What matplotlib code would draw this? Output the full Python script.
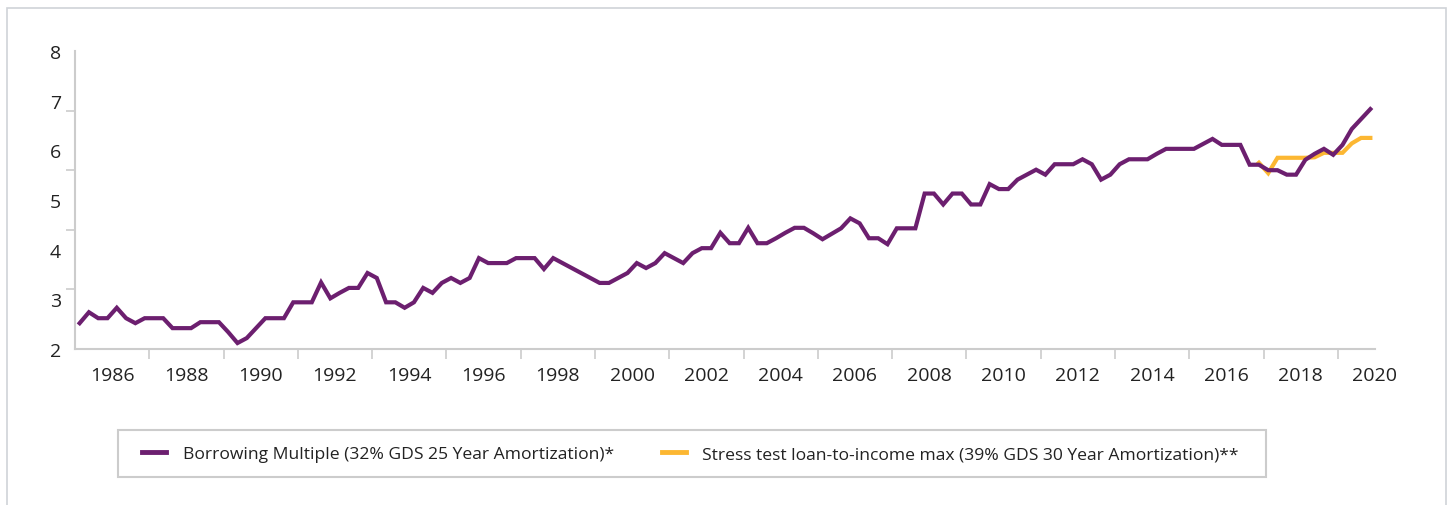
import numpy as np
import matplotlib
matplotlib.use("Agg")
import matplotlib.pyplot as plt
from matplotlib.patches import Rectangle
from matplotlib.lines import Line2D

plt.rcParams['font.family'] = ['Open Sans', 'DejaVu Sans']

# ---- data (quarterly observations, category index along x) ----
borrowing_multiple = [
    2.52, 2.74, 2.62, 2.62, 2.83, 2.62, 2.52, 2.62, 2.62, 2.62,
    2.42, 2.42, 2.42, 2.54, 2.54, 2.54, 2.34, 2.12, 2.22, 2.42,
    2.62, 2.62, 2.62, 2.94, 2.94, 2.94, 3.34, 3.02, 3.13, 3.23,
    3.23, 3.53, 3.43, 2.94, 2.94, 2.83, 2.94, 3.23, 3.13, 3.33,
    3.43, 3.33, 3.43, 3.83, 3.73, 3.73, 3.73, 3.83, 3.83, 3.83,
    3.61, 3.83, 3.73, 3.63, 3.53, 3.43, 3.33, 3.33, 3.43, 3.53,
    3.73, 3.63, 3.73, 3.93, 3.83, 3.73, 3.93, 4.03, 4.03, 4.34,
    4.13, 4.13, 4.44, 4.13, 4.13, 4.23, 4.34, 4.44, 4.44, 4.33,
    4.21, 4.32, 4.43, 4.63, 4.53, 4.23, 4.23, 4.11, 4.43, 4.43,
    4.43, 5.13, 5.13, 4.91, 5.13, 5.13, 4.91, 4.91, 5.32, 5.22,
    5.22, 5.41, 5.51, 5.61, 5.51, 5.72, 5.72, 5.72, 5.82, 5.72,
    5.41, 5.51, 5.72, 5.82, 5.82, 5.82, 5.93, 6.03, 6.03, 6.03,
    6.03, 6.13, 6.23, 6.11, 6.11, 6.11, 5.71, 5.71, 5.60, 5.60,
    5.51, 5.51, 5.81, 5.93, 6.03, 5.91, 6.11, 6.43, 6.63, 6.83,
]
stress_test_start = 127
stress_test_max = [5.75, 5.54, 5.85, 5.85, 5.85, 5.85, 5.86,
                   5.95, 5.95, 5.95, 6.14, 6.25, 6.25]

year_labels = [str(y) for y in range(1986, 2021, 2)]
ytick_labels = [2, 3, 4, 5, 6, 7, 8]
quarters_per_label = 8

label_bm = "Borrowing Multiple (32% GDS 25 Year Amortization)*"
label_st = "Stress test loan-to-income max (39% GDS 30 Year Amortization)**"

PURPLE = "#6c1f6f"
GOLD = "#fcb732"
GRAY = "#cccccc"
TEXT = "#222222"

n = len(borrowing_multiple)
x_bm = np.arange(n)
x_st = np.arange(stress_test_start, stress_test_start + len(stress_test_max))

fig = plt.figure(figsize=(14.5, 5.06), dpi=100)
W, H = 1450, 506
ax = fig.add_axes([75 / W, 1 - 350 / H, 1300 / W, 298 / H])

ax.plot(x_bm, borrowing_multiple, color=PURPLE, lw=3, solid_joinstyle='miter', zorder=3)
ax.plot(x_st, stress_test_max, color=GOLD, lw=3, solid_joinstyle='miter', zorder=2)

ax.set_xlim(-0.5, n - 0.5)
ax.set_ylim(min(ytick_labels), max(ytick_labels))

# y axis: labels at integers, tick marks evenly spaced
ax.set_yticks(ytick_labels)
ax.set_yticklabels([str(v) for v in ytick_labels])
ax.set_yticks(np.linspace(min(ytick_labels), max(ytick_labels), 6), minor=True)
ax.tick_params(axis='y', which='major', length=0, pad=10, labelsize=14, labelcolor=TEXT)
ax.tick_params(axis='y', which='minor', length=6.5, width=1.2, color=GRAY, direction='out')

# x axis: labels centred in each 8-quarter group, tick marks at group boundaries
label_pos = np.arange(len(year_labels)) * quarters_per_label + quarters_per_label / 2 - 0.5
label_pos = np.minimum(label_pos, n - 0.5)
ax.set_xticks(label_pos)
ax.set_xticklabels(year_labels)
ax.set_xticks(np.arange(quarters_per_label, n, quarters_per_label) - 0.5, minor=True)
ax.tick_params(axis='x', which='major', length=0, pad=12, labelsize=14, labelcolor=TEXT)
ax.tick_params(axis='x', which='minor', length=7.5, width=1.2, color=GRAY, direction='out')

for s in ['top', 'right']:
    ax.spines[s].set_visible(False)
for s in ['left', 'bottom']:
    ax.spines[s].set_color(GRAY)
    ax.spines[s].set_linewidth(1.5)

# outer frame
fig.patches.append(Rectangle((7 / W, -0.2), 1439 / W, 1.2 - 9 / H, transform=fig.transFigure,
                             fill=False, edgecolor="#d0d3d8", lw=1.2, clip_on=False))
# legend frame
fig.patches.append(Rectangle((118 / W, 1 - 478 / H), 1148 / W, 47 / H, transform=fig.transFigure,
                             fill=False, edgecolor=GRAY, lw=1.5))

handles = [Line2D([], [], color=PURPLE, lw=3.5), Line2D([], [], color=GOLD, lw=3.5)]
fig.legend(handles, [label_bm, label_st], loc='center left',
           bbox_to_anchor=(142 / W, 1 - 455 / H), ncol=2, frameon=False,
           fontsize=12.6, handlelength=1.37, handletextpad=0.95, columnspacing=2.75,
           borderpad=0, borderaxespad=0, labelcolor=TEXT)

fig.savefig("out.png", dpi=100)
